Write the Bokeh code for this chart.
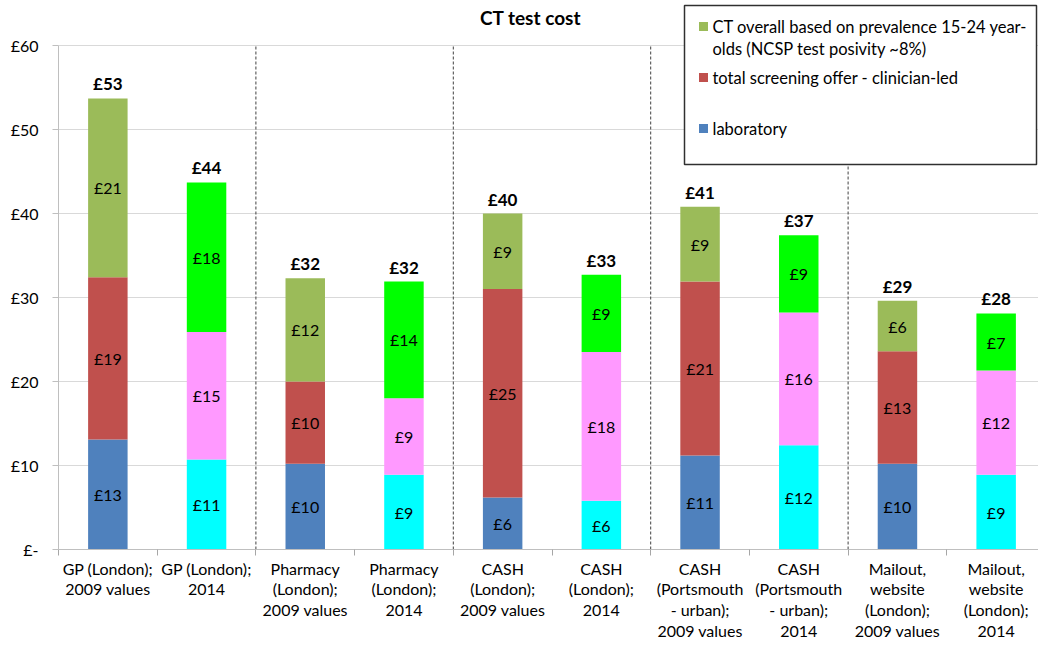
from bokeh.plotting import figure
from bokeh.models import Range1d, FixedTicker, ColumnDataSource
from bokeh.core.properties import value
from bokeh.embed import file_html
from bokeh.resources import INLINE

# ---------------- data ----------------
categories = [
    "GP (London);\n2009 values",
    "GP (London);\n2014",
    "Pharmacy\n(London);\n2009 values",
    "Pharmacy\n(London);\n2014",
    "CASH\n(London);\n2009 values",
    "CASH\n(London);\n2014",
    "CASH\n(Portsmouth\n- urban);\n2009 values",
    "CASH\n(Portsmouth\n- urban);\n2014",
    "Mailout,\nwebsite\n(London);\n2009 values",
    "Mailout,\nwebsite\n(London);\n2014",
]
laboratory = [13.1, 10.7, 10.2, 8.9, 6.2, 5.8, 11.2, 12.4, 10.2, 8.9]
clinician = [19.3, 15.2, 9.8, 9.1, 24.8, 17.7, 20.7, 15.8, 13.4, 12.4]
ct_overall = [21.3, 17.8, 12.3, 13.9, 9.0, 9.2, 8.9, 9.2, 6.0, 6.8]
series_names = [
    "laboratory",
    "total screening offer - clinician-led",
    "CT overall based on prevalence 15-24 year-\nolds (NCSP test posivity ~8%)",
]
y_ticks = [0, 10, 20, 30, 40, 50, 60]
y_tick_labels = ["£-", "£10", "£20", "£30", "£40", "£50", "£60"]
title_text = "CT test cost"

# ---------------- styles ----------------
FONT = "Lato"
colors_2009 = ["#4F81BD", "#C0504D", "#9BBB59"]
colors_2014 = ["#00FFFF", "#FF99FF", "#00FF00"]

# page-pixel geometry of the plotting frame (figure sits at page 0,0)
W, H = 1038, 648
FL, FR, FT, FB = 58, 1038, 0, 549
PX_CAT = 98.7
PX_UNIT = 8.4


def X(px):
    return (px - FL) / PX_CAT


def Y(py):
    return (FB - py) / PX_UNIT


n = len(categories)
xs = [i + 0.5 for i in range(n)]
layers = [laboratory, clinician, ct_overall]

p = figure(width=W, height=H, output_backend="svg", toolbar_location=None,
           x_range=Range1d(0, X(FR)), y_range=Range1d(0, Y(FT)),
           min_border_left=FL, min_border_right=0, min_border_top=0,
           min_border_bottom=H - FB)
p.outline_line_color = None
p.background_fill_color = "white"

# bars
bottoms = [0.0] * n
seg_x, seg_y, seg_t = [], [], []
for k, layer in enumerate(layers):
    tops = [b + v for b, v in zip(bottoms, layer)]
    cols = [colors_2009[k] if i % 2 == 0 else colors_2014[k] for i in range(n)]
    src = ColumnDataSource(dict(x=xs, bottom=bottoms, top=tops, color=cols))
    p.vbar(x="x", bottom="bottom", top="top", width=0.4, fill_color="color",
           line_color=None, source=src)
    for i in range(n):
        seg_x.append(xs[i])
        seg_y.append((bottoms[i] + tops[i]) / 2)
        seg_t.append(f"£{round(layer[i])}")
    bottoms = tops

p.text(x=seg_x, y=seg_y, text=seg_t, text_align="center", text_baseline="middle",
       text_font=value(FONT), text_font_size="16px", text_color="black")

totals_lbl = [f"£{sum(round(l[i]) for l in layers)}" for i in range(n)]
p.text(x=xs, y=bottoms, text=totals_lbl, text_align="center", text_baseline="bottom",
       y_offset=-4, text_font=value(FONT), text_font_size="17px",
       text_font_style="bold", text_color="black")

# group dividers
dividers = [i for i in range(2, n, 2)]
p.segment(x0=dividers, x1=dividers, y0=[0] * len(dividers), y1=[y_ticks[-1]] * len(dividers),
          line_color="#404040", line_dash="3 2", line_width=1)

# axes
p.xgrid.grid_line_color = None
p.ygrid.ticker = FixedTicker(ticks=y_ticks)
p.ygrid.grid_line_color = "#D9D9D9"

p.yaxis.ticker = FixedTicker(ticks=y_ticks)
p.yaxis.bounds = (0, y_ticks[-1])
p.yaxis.major_label_overrides = {t: l for t, l in zip(y_ticks, y_tick_labels)}
p.yaxis.axis_line_color = "#BFBFBF"
p.yaxis.major_tick_line_color = "#BFBFBF"
p.yaxis.major_tick_in = 0
p.yaxis.major_tick_out = 6
p.yaxis.minor_tick_line_color = None
p.yaxis.major_label_standoff = 14
p.yaxis.major_label_text_font = FONT
p.yaxis.major_label_text_font_size = "16px"
p.yaxis.major_label_text_color = "black"

p.xaxis.ticker = FixedTicker(ticks=xs, minor_ticks=list(range(n + 1)))
p.xaxis.bounds = (0, n)
p.xaxis.major_label_overrides = {x: c for x, c in zip(xs, categories)}
p.xaxis.axis_line_color = "#BFBFBF"
p.xaxis.major_tick_line_color = None
p.xaxis.minor_tick_line_color = "#A6A6A6"
p.xaxis.minor_tick_in = 0
p.xaxis.minor_tick_out = 6
p.xaxis.major_label_standoff = 3
p.xaxis.major_label_text_font = FONT
p.xaxis.major_label_text_font_size = "16px"
p.xaxis.major_label_text_line_height = 1.1
p.xaxis.major_label_text_color = "black"

# title
p.text(x=[X(530)], y=[Y(17)], text=[title_text], text_align="center", text_baseline="middle",
       text_font=value(FONT), text_font_size="19px", text_font_style="bold", text_color="black")

# legend (manual, Excel style)
p.quad(left=[X(684)], right=[X(1036)], top=[Y(5)], bottom=[Y(164)],
       fill_color="white", line_color="#303030", line_width=1.5)
leg_rows = [(2, 26), (1, 77), (0, 128)]
for k, py in leg_rows:
    p.scatter(x=[X(703)], y=[Y(py)], marker="square", size=9,
              fill_color=colors_2009[k], line_color=None)
    lines = series_names[k].split("\n")
    p.text(x=[X(712)] * len(lines), y=[Y(py + 22 * j) for j in range(len(lines))],
           text=lines, text_align="left", text_baseline="middle",
           text_font=value(FONT), text_font_size="16.5px", text_color="black")

open("out.html", "w").write(file_html(p, INLINE))
